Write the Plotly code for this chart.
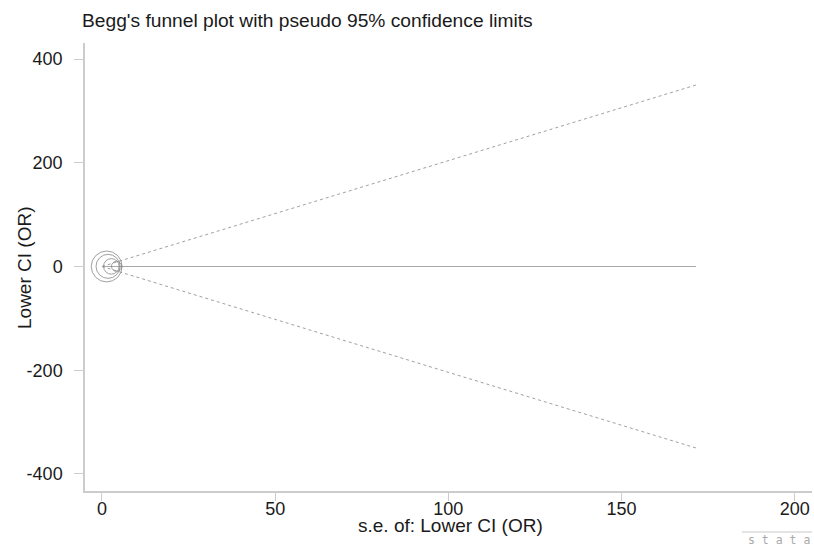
import plotly.graph_objects as go

# Study points (standard error vs. Lower CI (OR))
se = [1.36, 1.75, 2.7, 4.2]
lower_ci = [0.0, 0.3, 0.2, 0.4]

# Pseudo 95% confidence limits and fixed-effect line
limit_se = [0, 171.5]
limit_upper = [0, 350]
limit_lower = [0, -350]
center = [0, 0]

x_ticks = [0, 50, 100, 150, 200]
y_ticks = [-400, -200, 0, 200, 400]
y_tick_text = ["-400", "-200", "0", "200", "400"]

marker_sizes = [42 / s for s in se]

W, H = 814, 547
L, R, T, B = 85, 2, 43, 56
PW, PH = W - L - R, H - T - B


def px(xf):
    return (xf - L) / PW


def py(yf):
    return (H - B - yf) / PH


fig = go.Figure()
fig.add_trace(go.Scatter(x=limit_se, y=limit_upper, mode="lines",
                         line=dict(color="#a0a0a0", width=1, dash="dot"), hoverinfo="skip"))
fig.add_trace(go.Scatter(x=limit_se, y=limit_lower, mode="lines",
                         line=dict(color="#a0a0a0", width=1, dash="dot"), hoverinfo="skip"))
fig.add_trace(go.Scatter(x=limit_se, y=center, mode="lines",
                         line=dict(color="#a8a8a8", width=1.2), hoverinfo="skip"))
fig.add_trace(go.Scatter(x=se, y=lower_ci, mode="markers",
                         marker=dict(symbol="circle-open", size=marker_sizes,
                                     color="#777777", line=dict(width=1))))

font_family = "Liberation Sans, Arial, sans-serif"
axis_col = "#cccccc"
fig.update_layout(
    width=W, height=H,
    margin=dict(l=L, r=R, t=T, b=B, autoexpand=False),
    paper_bgcolor="white", plot_bgcolor="white",
    showlegend=False,
    font=dict(family=font_family, color="#1a1a1a"),
    title=dict(text="Begg's funnel plot with pseudo 95% confidence limits",
               x=82 / W, xanchor="left", y=1 - 20 / H, yanchor="middle",
               font=dict(size=19.2, family=font_family, color="#1a1a1a")),
    xaxis=dict(range=[-4.9, 205], tickvals=x_ticks, ticks="outside", ticklen=8,
               ticklabelstandoff=-7,
               tickcolor=axis_col, showline=True, linecolor=axis_col, linewidth=1.5,
               showgrid=False, zeroline=False, tickfont=dict(size=18),
               automargin=False),
    yaxis=dict(range=[-433, 431], tickvals=y_ticks, ticktext=y_tick_text,
               ticks="outside", ticklen=9, ticklabelstandoff=8,
               tickcolor=axis_col, showline=True, linecolor=axis_col, linewidth=1.5,
               showgrid=False, zeroline=False, tickfont=dict(size=18),
               automargin=False),
)

fig.add_annotation(text="s.e. of: Lower CI (OR)", xref="paper", yref="paper",
                   x=px(450), y=py(525), xanchor="center", yanchor="middle",
                   showarrow=False, font=dict(size=19))
fig.add_annotation(text="Lower CI (OR)", xref="paper", yref="paper", textangle=-90,
                   x=px(24), y=py(268), xanchor="center", yanchor="middle",
                   showarrow=False, font=dict(size=19))

fig.add_shape(type="line", xref="paper", yref="paper",
              x0=px(742), x1=px(812), y0=py(532), y1=py(532),
              line=dict(color="#c8c8c8", width=1))
fig.add_annotation(text="s t a t a", xref="paper", yref="paper",
                   x=px(812), y=py(540), xanchor="right", yanchor="middle",
                   showarrow=False, font=dict(size=11.5, color="#aaaaaa", family="DejaVu Sans Mono"))

fig.write_html(
    "out.html",
    config={"displayModeBar": False},
    post_script="document.body.style.margin='0';document.body.style.overflow='hidden';",
)
